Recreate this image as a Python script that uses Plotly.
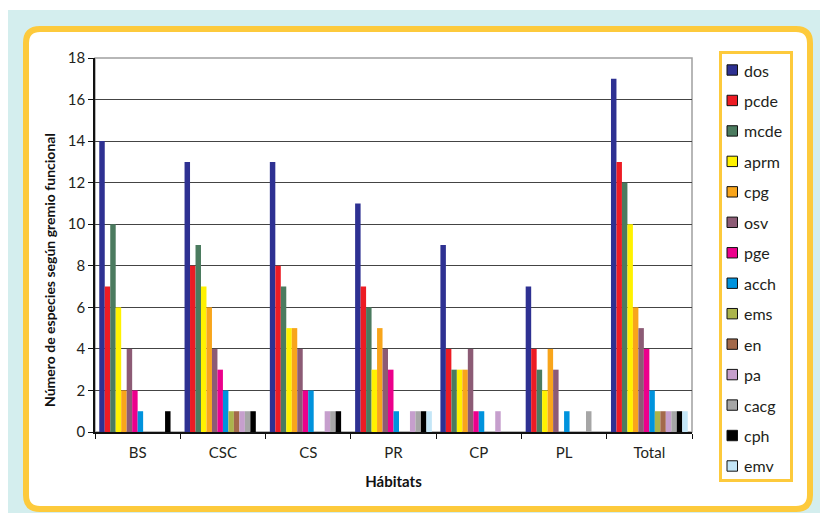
import plotly.graph_objects as go

# Habitat categories on the x axis
habitats = ["BS", "CSC", "CS", "PR", "CP", "PL", "Total"]

# Number of species per functional guild in each habitat
dos = [14, 13, 13, 11, 9, 7, 17]
pcde = [7, 8, 8, 7, 4, 4, 13]
mcde = [10, 9, 7, 6, 3, 3, 12]
aprm = [6, 7, 5, 3, 3, 2, 10]
cpg = [2, 6, 5, 5, 3, 4, 6]
osv = [4, 4, 4, 4, 4, 3, 5]
pge = [2, 3, 2, 3, 1, 0, 4]
acch = [1, 2, 2, 1, 1, 1, 2]
ems = [0, 1, 0, 0, 0, 0, 1]
en = [0, 1, 0, 0, 0, 0, 1]
pa = [0, 1, 1, 1, 1, 0, 1]
cacg = [0, 1, 1, 1, 0, 1, 1]
cph = [1, 1, 1, 1, 0, 0, 1]
emv = [0, 0, 0, 1, 0, 0, 1]

guilds = ["dos", "pcde", "mcde", "aprm", "cpg", "osv", "pge",
          "acch", "ems", "en", "pa", "cacg", "cph", "emv"]
values = [dos, pcde, mcde, aprm, cpg, osv, pge,
          acch, ems, en, pa, cacg, cph, emv]
colors = ["#2e3192", "#ed1c24", "#4b7b5f", "#fff200", "#f8a51b", "#8c5b75",
          "#ec008c", "#0093dd", "#abb44c", "#a3694a", "#c69fcd", "#a6a6a6",
          "#000000", "#c4e6f7"]

y_ticks = list(range(0, 19, 2))

FONT = "Lato"
TEXT = "#231f20"
ORANGE = "#fdca3c"

# plot area in pixels
L, R, T, B = 95, 692, 58, 432
W, H = R - L, B - T


def px(x):
    return (x - L) / W


def py(y):
    return (B - y) / H


fig = go.Figure()
for name, vals, col in zip(guilds, values, colors):
    fig.add_trace(go.Bar(
        name=name, x=habitats, y=vals,
        marker=dict(color=col, line=dict(width=0)),
        showlegend=False,
    ))

shapes = []
# pale cyan backdrop
shapes.append(dict(type="rect", xref="paper", yref="paper",
                   x0=px(8), x1=px(825), y0=py(10), y1=py(520),
                   fillcolor="#d4eeee", line=dict(width=0), layer="below"))

# rounded white panel with orange border
x0, x1, y0, y1, r = 26, 810, 29, 509, 14
path = (
    f"M {px(x0 + r)},{py(y0)} L {px(x1 - r)},{py(y0)} "
    f"Q {px(x1)},{py(y0)} {px(x1)},{py(y0 + r)} "
    f"L {px(x1)},{py(y1 - r)} Q {px(x1)},{py(y1)} {px(x1 - r)},{py(y1)} "
    f"L {px(x0 + r)},{py(y1)} Q {px(x0)},{py(y1)} {px(x0)},{py(y1 - r)} "
    f"L {px(x0)},{py(y0 + r)} Q {px(x0)},{py(y0)} {px(x0 + r)},{py(y0)} Z"
)
shapes.append(dict(type="path", xref="paper", yref="paper", path=path,
                   fillcolor="white", line=dict(color=ORANGE, width=6),
                   layer="below"))

# plot frame (top and right edges)
shapes.append(dict(type="rect", xref="paper", yref="paper",
                   x0=0, x1=1, y0=0, y1=1,
                   line=dict(color="#a0a0a0", width=1.5), layer="below"))

# legend box
shapes.append(dict(type="rect", xref="paper", yref="paper",
                   x0=px(720.5), x1=px(791.5), y0=py(52.5), y1=py(480.5),
                   fillcolor="white", line=dict(color=ORANGE, width=3),
                   layer="above"))

annotations = []
step = 30.46
for i, (name, col) in enumerate(zip(guilds, colors)):
    cy = 70 + i * step
    shapes.append(dict(type="rect", xref="paper", yref="paper",
                       x0=px(727), x1=px(737.5), y0=py(cy - 5.2), y1=py(cy + 5.2),
                       fillcolor=col, line=dict(color="#111111", width=1),
                       layer="above"))
    annotations.append(dict(xref="paper", yref="paper", x=px(742), y=py(cy),
                            text=name, showarrow=False, xanchor="left",
                            yanchor="middle",
                            font=dict(family=FONT, size=16, color=TEXT)))

# y axis title, placed beside the tick labels
annotations.append(dict(
    xref="paper", yref="paper", x=px(49), y=py(270),
    text="<b>Número de especies según gremio funcional</b>",
    textangle=-90, showarrow=False, xanchor="center", yanchor="middle",
    font=dict(family=FONT, size=14, color="#111111"),
))

fig.update_layout(
    width=820, height=513,
    margin=dict(l=L, r=820 - R, t=T, b=513 - B, pad=0),
    paper_bgcolor="white",
    plot_bgcolor="rgba(0,0,0,0)",
    barmode="group",
    bargap=0.1,
    bargroupgap=0,
    shapes=shapes,
    annotations=annotations,
    font=dict(family=FONT, color=TEXT),
    xaxis=dict(
        type="category",
        showline=True, linecolor="#111111", linewidth=1.5,
        ticks="outside", ticklen=5, tickcolor="#111111", tickwidth=1,
        tickson="boundaries",
        ticklabelstandoff=6,
        showgrid=False,
        tickfont=dict(family=FONT, size=15, color=TEXT),
        title=dict(text="<b>Hábitats</b>", standoff=17,
                   font=dict(family=FONT, size=15, color="#111111")),
        automargin=False,
    ),
    yaxis=dict(
        range=[0, 18],
        tickvals=y_ticks,
        showline=True, linecolor="#111111", linewidth=1.5,
        ticks="outside", ticklen=5, tickcolor="#111111", tickwidth=1,
        showgrid=True, gridcolor="#444444", gridwidth=1.3,
        zeroline=False,
        tickfont=dict(family=FONT, size=15, color=TEXT),
        automargin=False,
    ),
)

fig.write_html("out.html")
